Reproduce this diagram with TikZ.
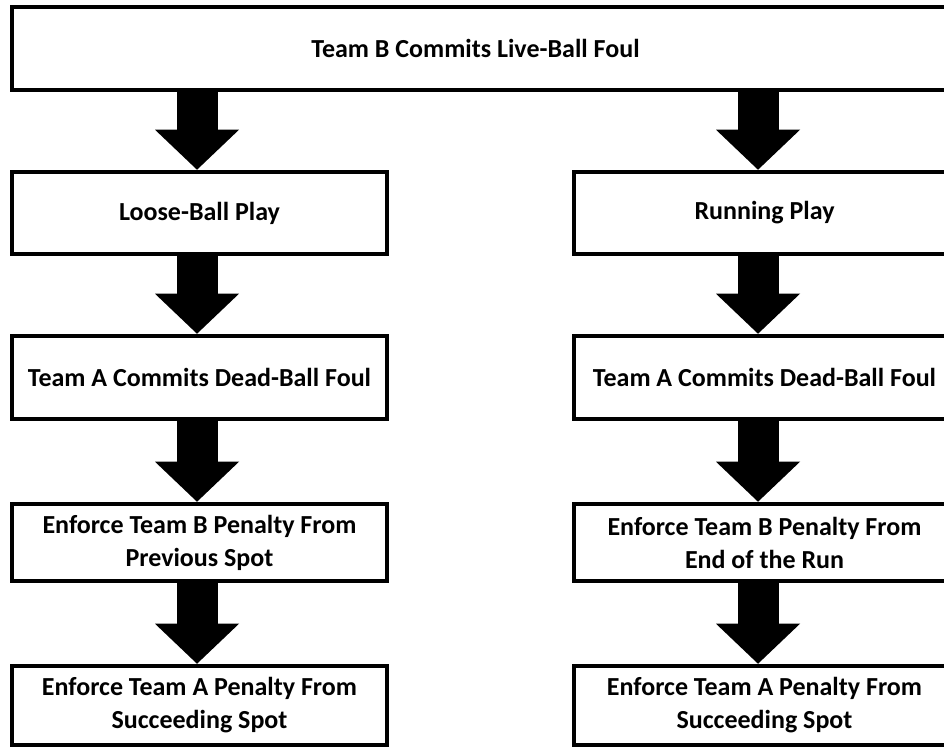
\documentclass[tikz,border=0pt]{standalone}
\usepackage{fontspec}
\setmainfont{Carlito}
\usetikzlibrary{arrows.meta}
\tikzset{
    % flow box style
    box/.style = {draw, line width=3.4pt, inner sep=0pt, align=center, font=\bfseries\fontsize{19.5}{24.75}\selectfont},
    % column boxes
    left box/.style = {box, minimum width=281.25pt},
    right box/.style = {box, minimum width=285.75pt},
    % fat down arrow style
    block arrow/.style = {line width=30.75pt, -{Triangle[width=63pt, length=30pt, line width=0pt]}}
}

\begin{document}
\begin{tikzpicture}[x=0.75pt, y=-0.75pt]
        % page, cut on the right like the reference
        \useasboundingbox (0,0) rectangle (944,747);
        \clip (0,0) rectangle (944,747);
        % arrow axes of the two columns
        \coordinate (L) at (197,0);
        \coordinate (R) at (758,0);
        % top box
        \node[box, minimum width=712.5pt, minimum height=62.25pt] (livefoul) at (487,48.5) {Team B Commits Live-Ball Foul\hspace*{17.25pt}};
        % left column
        \node[left box, minimum height=61.5pt] (loose) at (199.5,213) {Loose-Ball Play};
        \node[left box, minimum height=62.25pt] (deadL) at (199.5,377.5) {Team A Commits Dead-Ball Foul};
        \node[left box, minimum height=57.75pt] (prevspot) at (199.5,542.5) {Enforce Team B Penalty From\\Previous Spot};
        \node[left box, minimum height=59.25pt] (succL) at (199.5,705.5) {Enforce Team A Penalty From\\Succeeding Spot};
        % right column
        \node[right box, minimum height=61.5pt] (running) at (764.5,213) {Running Play};
        \node[right box, minimum height=62.25pt] (deadR) at (764.5,377.5) {Team A Commits Dead-Ball Foul};
        \node[right box, minimum height=57.75pt] (endrun) at (764.5,542.5) {Enforce Team B Penalty From\\End of the Run};
        \node[right box, minimum height=59.25pt] (succR) at (764.5,705.5) {Enforce Team A Penalty From\\Succeeding Spot};
        % arrows
        \draw[block arrow] (L |- livefoul.south) -- (L |- loose.north);
        \draw[block arrow] (L |- loose.south) -- (L |- deadL.north);
        \draw[block arrow] (L |- deadL.south) -- (L |- prevspot.north);
        \draw[block arrow] (L |- prevspot.south) -- (L |- succL.north);
        \draw[block arrow] (R |- livefoul.south) -- (R |- running.north);
        \draw[block arrow] (R |- running.south) -- (R |- deadR.north);
        \draw[block arrow] (R |- deadR.south) -- (R |- endrun.north);
        \draw[block arrow] (R |- endrun.south) -- (R |- succR.north);
\end{tikzpicture}
\end{document}
